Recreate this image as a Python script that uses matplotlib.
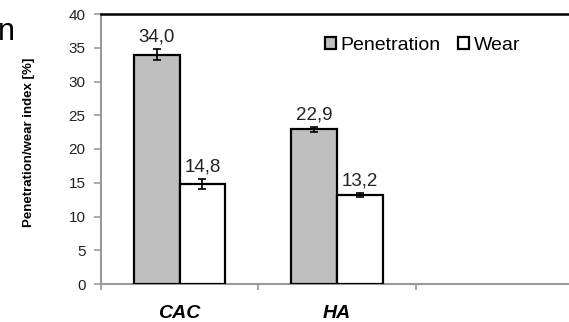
import matplotlib.pyplot as plt
import numpy as np

plt.rcParams["font.family"] = ["Liberation Sans", "DejaVu Sans"]

categories = ["CAC", "HA", ""]
penetration = [34.0, 22.9]
penetration_err = [0.8, 0.4]
wear = [14.8, 13.2]
wear_err = [0.7, 0.35]
y_ticks = [0, 5, 10, 15, 20, 25, 30, 35, 40]


def fmt(v):
    return f"{v:.1f}".replace(".", ",")


def main():
    fig = plt.figure(figsize=(5.69, 3.22), dpi=100)
    ax = fig.add_axes([101 / 569, 38 / 322, 472 / 569, 270 / 322])

    x = np.arange(len(penetration))
    width = 0.29
    err_kw = dict(ecolor="black", capsize=3, elinewidth=1.2, capthick=1.2)
    ax.bar(x - width / 2, penetration, width, yerr=penetration_err,
           color="#bfbfbf", edgecolor="black", linewidth=1.6,
           error_kw=err_kw, label="Penetration", zorder=3)
    ax.bar(x + width / 2, wear, width, yerr=wear_err,
           color="white", edgecolor="black", linewidth=1.6,
           error_kw=err_kw, label="Wear", zorder=3)

    for xi, v, e in zip(x - width / 2, penetration, penetration_err):
        ax.text(xi, v + e + 0.5, fmt(v), ha="center", va="bottom",
                fontsize=13.5, color="#222222")
    for xi, v, e in zip(x + width / 2, wear, wear_err):
        ax.text(xi, v + e + 0.5, fmt(v), ha="center", va="bottom",
                fontsize=13.5, color="#222222")

    ax.set_xlim(-0.5, len(categories) - 0.5)
    ax.set_ylim(0, 40)
    ax.set_yticks(y_ticks)
    ax.set_yticklabels([str(t) for t in y_ticks], fontsize=11,
                       color="#222222")
    ax.set_xticks(np.arange(len(categories) + 1) - 0.5)
    ax.set_xticklabels([])
    ax.tick_params(axis="x", direction="out", length=4, color="#999999",
                   width=1.2)
    ax.tick_params(axis="y", direction="out", length=5, color="#999999",
                   width=1.2, pad=6)
    for i, c in enumerate(categories):
        ax.text(i, -4.3, c, ha="center", va="center", fontsize=14,
                fontweight="bold", fontstyle="italic")

    ax.spines["left"].set_color("#999999")
    ax.spines["bottom"].set_color("#999999")
    ax.spines["left"].set_linewidth(1.5)
    ax.spines["bottom"].set_linewidth(1.5)
    ax.spines["top"].set_color("black")
    ax.spines["top"].set_linewidth(1.8)
    ax.spines["right"].set_visible(False)

    ax.set_ylabel("Penetration/wear index [%]", fontsize=9.5,
                  fontweight="bold")
    ax.yaxis.set_label_coords(-0.14, 0.526)

    ax.legend(loc="center left", bbox_to_anchor=(0.475, 0.885),
              frameon=False, fontsize=14, ncol=2, handlelength=0.55,
              handleheight=0.55, handletextpad=0.25, columnspacing=0.9,
              borderaxespad=0, borderpad=0)

    fig.text(-0.003, 1 - 17 / 322, "n", fontsize=22, va="top")

    fig.savefig("out.png", dpi=100)


if __name__ == "__main__":
    main()
